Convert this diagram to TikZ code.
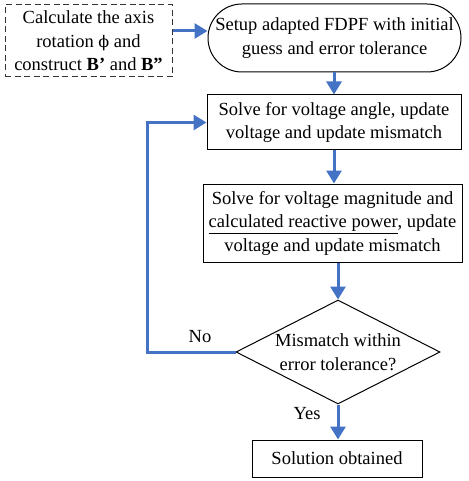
\documentclass[tikz,border=0pt]{standalone}
\usepackage{fontspec}
\setmainfont{Liberation Serif}
\newfontfamily\greekfont{DejaVu Serif}
\usetikzlibrary{arrows.meta,shapes.geometric}
\definecolor{flowblue}{RGB}{68,114,196}
\tikzset{
  txt/.style={font=\fontsize{18.5}{23.5}\selectfont, align=center, inner sep=0pt},
  procbox/.style={txt, draw=black, line width=1pt, rectangle},
  flow/.style={draw=flowblue, line width=3pt,
    -{Triangle[width=15pt,length=13pt]}},
  flowline/.style={draw=flowblue, line width=3pt},
}
\begin{document}
\begin{tikzpicture}[x=1pt,y=-1pt]
\useasboundingbox (0,0) rectangle (468,481);

% preparation step (optional, dashed)
\node[procbox, draw=black!80, dash pattern=on 6pt off 3.5pt,
      minimum width=167pt, minimum height=72pt] (prep) at (88.5,41)
  {Calculate the axis\\rotation {\greekfont\fontsize{16}{20}\selectfont ϕ} and\\construct \textbf{B’} and \textbf{B”}};

% start terminal
\node[procbox, rounded corners=34pt, minimum width=253pt, minimum height=68pt]
  (start) at (334.5,38)
  {Setup adapted FDPF with initial\\guess and error tolerance};

% angle sub-problem
\node[procbox, minimum width=254pt, minimum height=55pt] (angle) at (334,122.5)
  {Solve for voltage angle, update\\voltage and update mismatch};

% magnitude sub-problem
\node[procbox, minimum width=259pt, minimum height=78pt] (mag) at (332.5,223)
  {Solve for voltage magnitude and\\\underline{calculated reactive power}, update\\voltage and update mismatch};

% convergence check
\node[txt, draw=black, line width=1pt, diamond, aspect=1.96,
      minimum width=204pt, minimum height=104pt, inner sep=0pt] (check) at (338,352)
  {Mismatch within\\error tolerance?};

% end
\node[procbox, minimum width=170pt, minimum height=37pt] (done) at (337,458.5)
  {Solution obtained};

% connectors
\draw[flow] (prep.east |- 0,31) -- (start.west |- 0,31);
\draw[flow] (start.south -| angle.north) -- (angle.north);
\draw[flow] (angle.south) -- (mag.north -| angle.south);
\draw[flow] (mag.south -| check.north) -- (check.north);
\draw[flow] (check.south) -- (done.north -| check.south);

\coordinate (loop) at (147,352);
\draw[flowline] (check.west) -- (loop) -- (loop |- angle.west);
\draw[flow] ([xshift=-1.5pt]loop |- angle.west) -- (angle.west);

% branch labels
\node[txt] (nolbl) at (200,337) {No};
\node[txt] (yeslbl) at (307,414) {Yes};
\end{tikzpicture}
\end{document}
